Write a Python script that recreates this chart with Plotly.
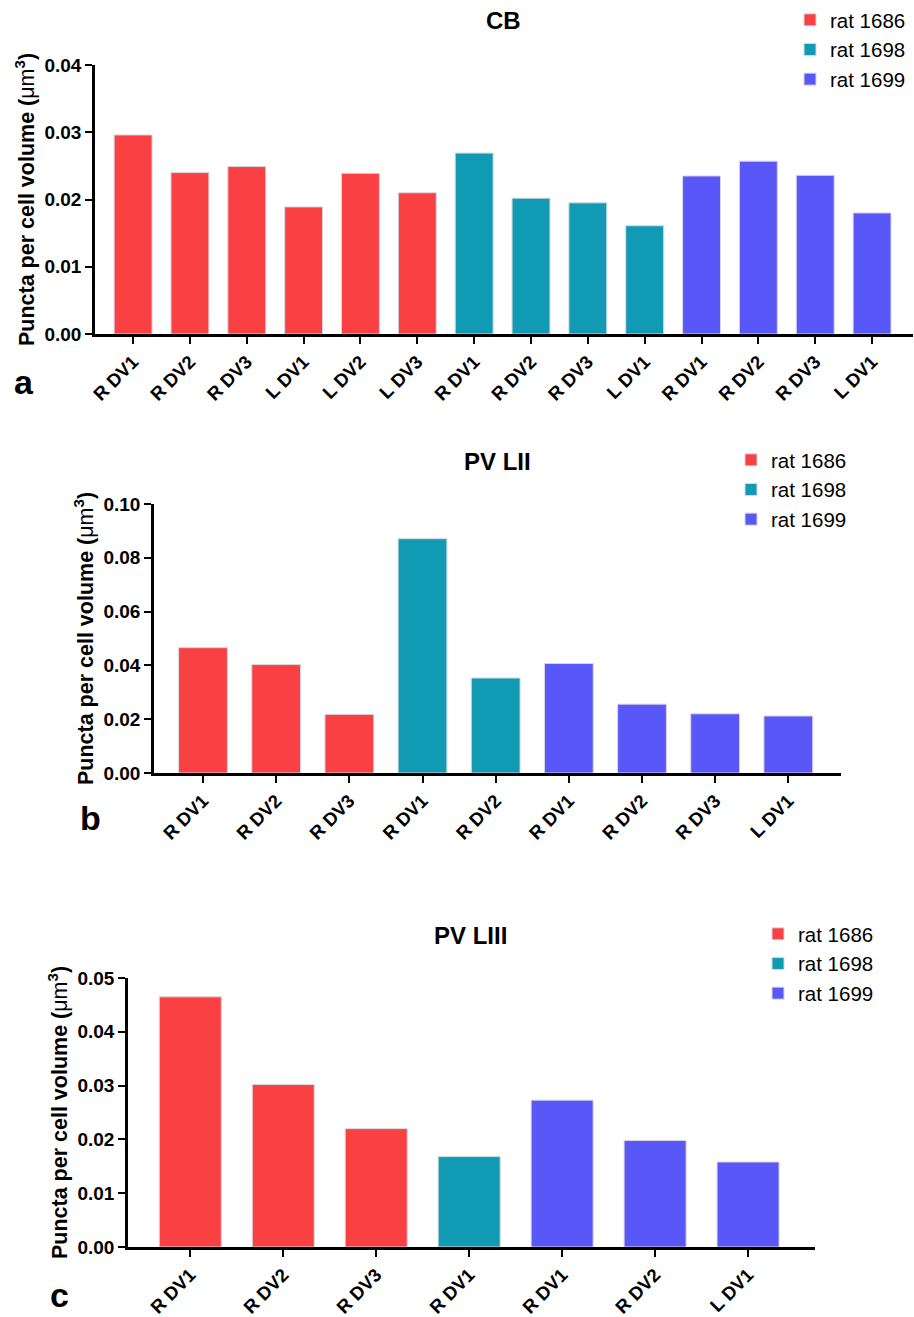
import plotly.graph_objects as go

# Rats and their bar colours
RATS = ["rat 1686", "rat 1698", "rat 1699"]
RAT_COLORS = ["#F94144", "#119AB4", "#5957F8"]

# CB puncta density per section
CB_SITES = ["R DV1", "R DV2", "R DV3", "L DV1", "L DV2", "L DV3",
            "R DV1", "R DV2", "R DV3", "L DV1",
            "R DV1", "R DV2", "R DV3", "L DV1"]
CB_RAT = ["rat 1686"] * 6 + ["rat 1698"] * 4 + ["rat 1699"] * 4
CB_VALUES = [0.0296, 0.0240, 0.0249, 0.0189, 0.0239, 0.0210,
             0.0269, 0.0202, 0.0195, 0.0161,
             0.0235, 0.0257, 0.0236, 0.0180]

# PV layer II
PV2_SITES = ["R DV1", "R DV2", "R DV3", "R DV1", "R DV2",
             "R DV1", "R DV2", "R DV3", "L DV1"]
PV2_RAT = ["rat 1686"] * 3 + ["rat 1698"] * 2 + ["rat 1699"] * 4
PV2_VALUES = [0.0466, 0.0403, 0.0218, 0.0871, 0.0353,
              0.0407, 0.0256, 0.0220, 0.0212]

# PV layer III
PV3_SITES = ["R DV1", "R DV2", "R DV3", "R DV1", "R DV1", "R DV2", "L DV1"]
PV3_RAT = ["rat 1686"] * 3 + ["rat 1698"] * 1 + ["rat 1699"] * 3
PV3_VALUES = [0.0465, 0.0302, 0.0220, 0.0168, 0.0273, 0.0198, 0.0158]

W, H = 914, 1317
FONT = "Liberation Sans"
YTITLE = "Puncta per cell volume (<span style='font-weight:normal'>μm</span><sup>3</sup>)"


def fy(y):
    """Pixel row -> paper fraction."""
    return 1 - y / H


panels = [
    dict(sites=CB_SITES, rats=CB_RAT, values=CB_VALUES, title="CB", letter="a",
         xpx=(95, 913), ypx=(65, 334), yrange=[0, 0.04], dtick=0.01,
         legend_xy=(790, 0), title_xy=(503, 21), letter_xy=(24, 382)),
    dict(sites=PV2_SITES, rats=PV2_RAT, values=PV2_VALUES, title="PV LII", letter="b",
         xpx=(154, 841), ypx=(504, 773), yrange=[0, 0.10], dtick=0.02,
         legend_xy=(731, 440), title_xy=(497, 461), letter_xy=(90, 818)),
    dict(sites=PV3_SITES, rats=PV3_RAT, values=PV3_VALUES, title="PV LIII", letter="c",
         xpx=(128, 815), ypx=(978, 1247), yrange=[0, 0.05], dtick=0.01,
         legend_xy=(758, 914), title_xy=(470, 935), letter_xy=(59, 1295)),
]

fig = go.Figure()
annotations = []
layout = {}

for p_i, p in enumerate(panels):
    n = p_i + 1
    sfx = "" if n == 1 else str(n)
    leg = "legend" + sfx
    for rat, color in zip(RATS, RAT_COLORS):
        xs = [i for i, r in enumerate(p["rats"]) if r == rat]
        ys = [p["values"][i] for i in xs]
        fig.add_trace(go.Bar(
            x=xs, y=ys, name=rat, xaxis="x" + sfx, yaxis="y" + sfx,
            legend=leg,
            marker=dict(color=color, line=dict(color="#D8D8E0", width=1)),
        ))
    npts = len(p["sites"])
    x0, x1 = p["xpx"]
    yt, yb = p["ypx"]
    layout["xaxis" + sfx] = dict(
        domain=[x0 / W, x1 / W], anchor="y" + sfx, automargin=False,
        range=[-0.67, npts - 1 + 0.72],
        tickmode="array", tickvals=list(range(npts)), ticktext=p["sites"],
        tickangle=-45, ticks="outside", ticklen=7, tickwidth=2, tickcolor="black",
        showline=True, linecolor="black", linewidth=2.5,
        showgrid=False, zeroline=False,
        tickfont=dict(family=FONT, size=18.5, color="black", weight="bold"),
    )
    layout["yaxis" + sfx] = dict(
        domain=[fy(yb), fy(yt)], anchor="x" + sfx, automargin=False,
        range=p["yrange"], dtick=p["dtick"], tickformat=".2f",
        ticks="outside", ticklen=7, tickwidth=2, tickcolor="black",
        showline=True, linecolor="black", linewidth=2.5,
        showgrid=False, zeroline=False,
        tickfont=dict(family=FONT, size=19, color="black", weight="bold"),
        title=dict(text=YTITLE, standoff=4,
                   font=dict(family=FONT, size=21.5, color="black", weight="bold")),
    )
    lx, ly = p["legend_xy"]
    layout[leg] = dict(
        x=lx / W, y=fy(ly), xanchor="left", yanchor="top",
        font=dict(family=FONT, size=20.5, color="black"),
        bgcolor="rgba(0,0,0,0)", tracegroupgap=0,
    )
    tx, ty = p["title_xy"]
    annotations.append(dict(
        text=p["title"], x=tx / W, y=fy(ty), xref="paper", yref="paper",
        xanchor="center", yanchor="middle", showarrow=False,
        font=dict(family=FONT, size=24, color="black", weight="bold"),
    ))
    cx, cy = p["letter_xy"]
    annotations.append(dict(
        text=p["letter"], x=cx / W, y=fy(cy), xref="paper", yref="paper",
        xanchor="center", yanchor="middle", showarrow=False,
        font=dict(family=FONT, size=34, color="black", weight="bold"),
    ))

fig.update_layout(
    width=W, height=H,
    margin=dict(l=0, r=0, t=0, b=0, autoexpand=False),
    paper_bgcolor="white", plot_bgcolor="white",
    barmode="overlay", bargap=0.333,
    annotations=annotations,
    **layout,
)

fig.write_html("out.html")
